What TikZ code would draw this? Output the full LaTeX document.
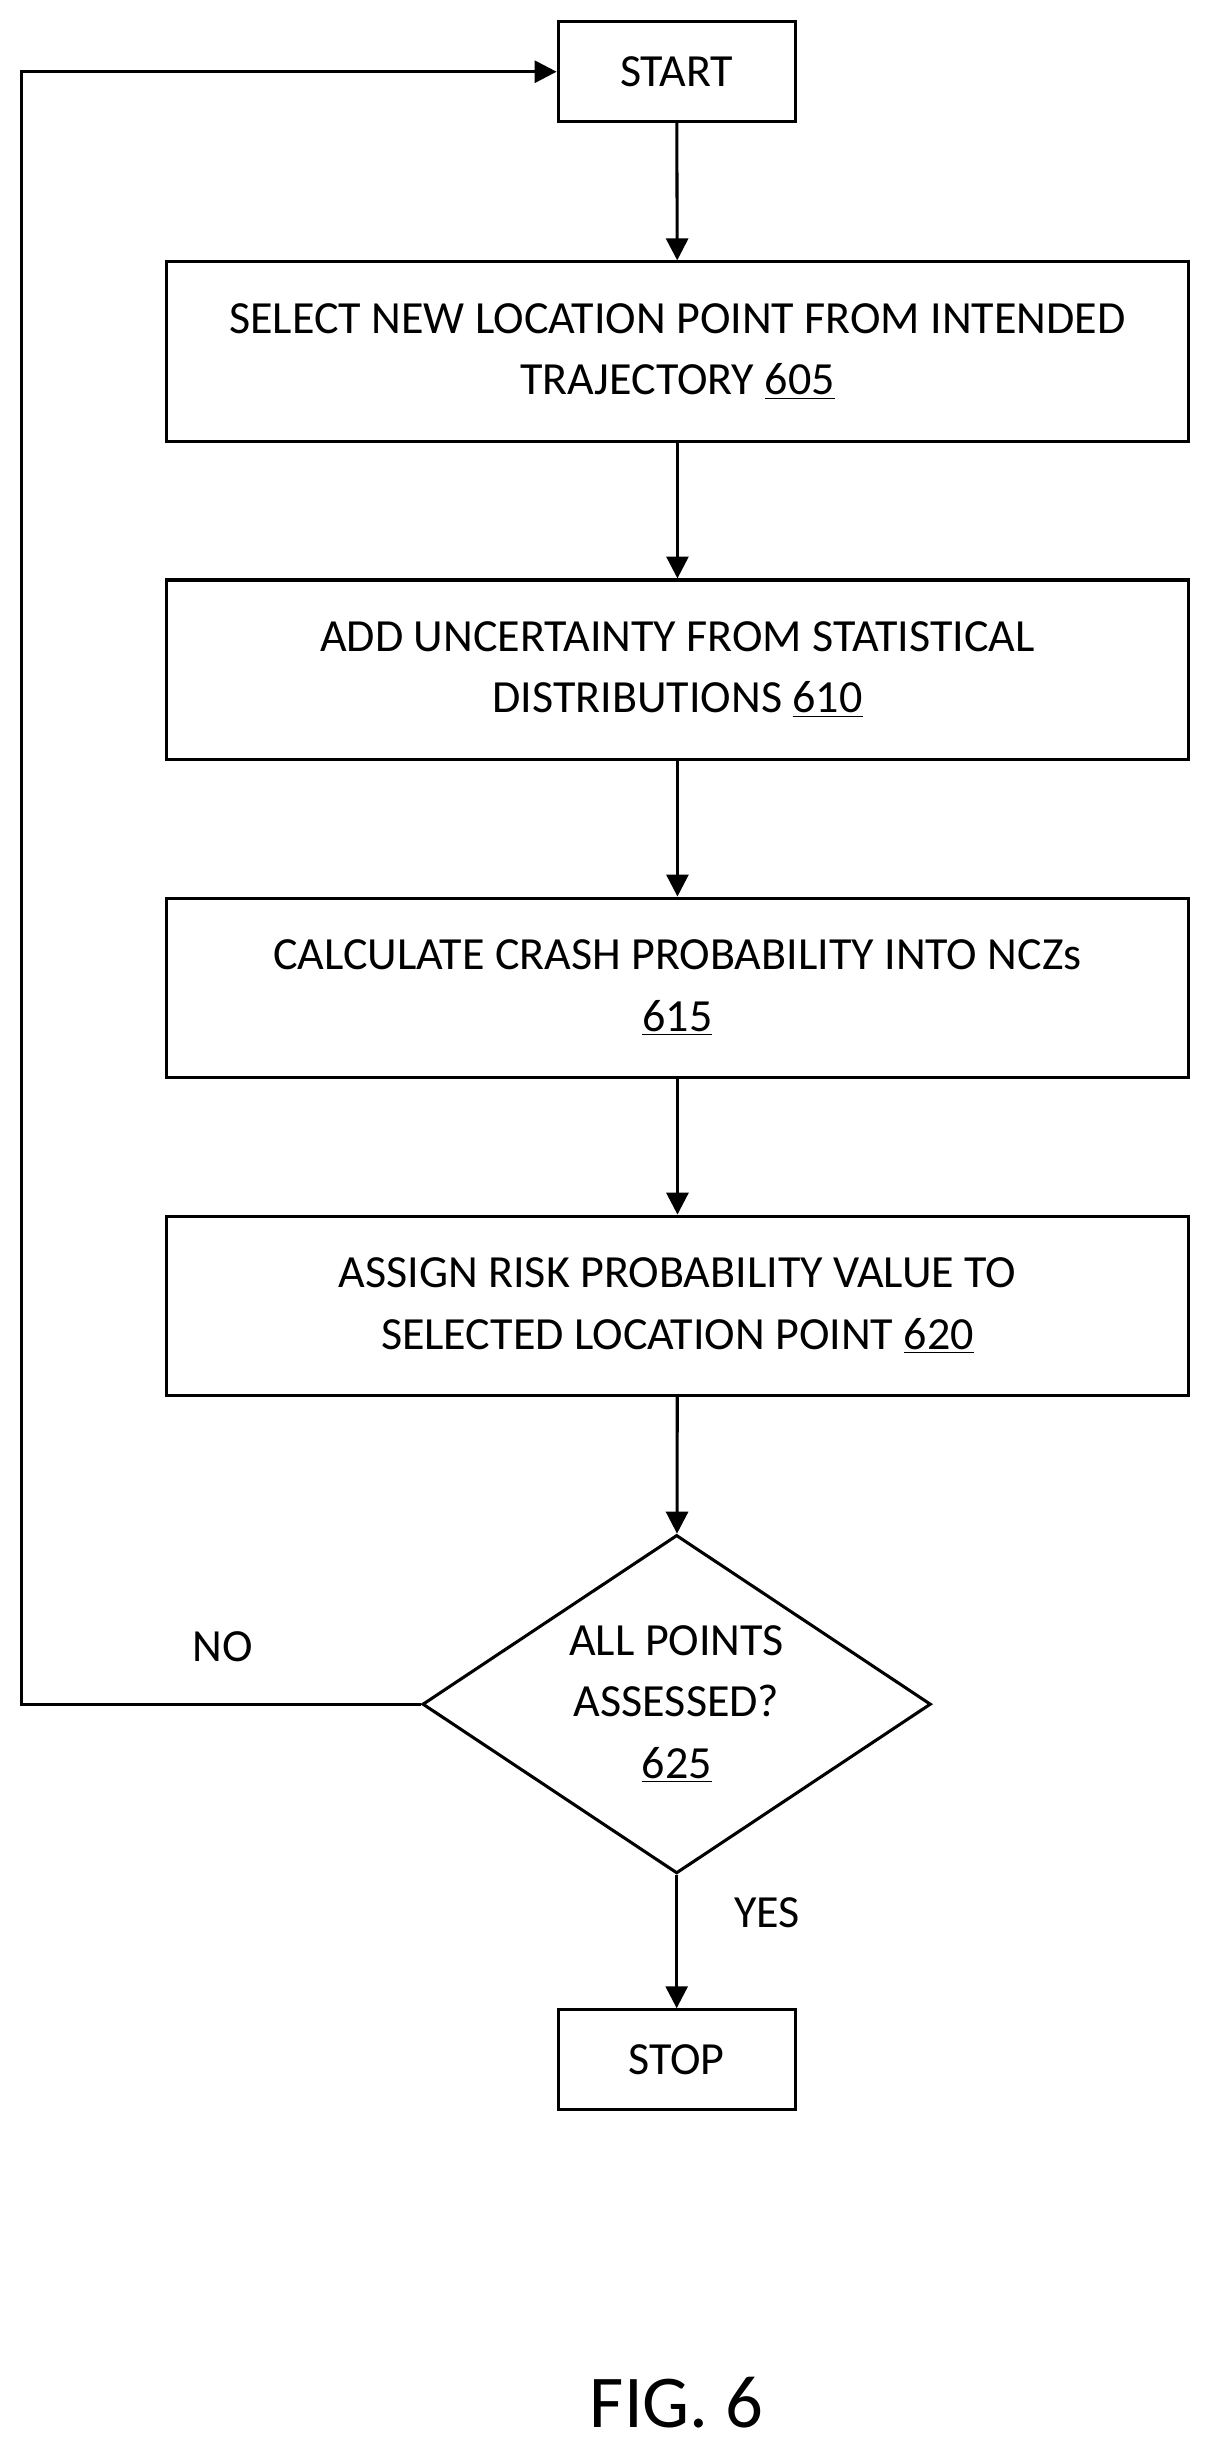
\documentclass[tikz,border=0pt]{standalone}
\usepackage{fontspec}
\setmainfont{Carlito}
\usetikzlibrary{shapes.geometric, arrows.meta}
\tikzset{
  procbox/.style={draw, line width=1.4pt, minimum width=16.375cm, minimum height=2.875cm,
               align=center, font=\fontsize{21}{28}\selectfont},
  term/.style={draw, line width=1.4pt, minimum width=3.8cm, minimum height=1.6cm,
               font=\fontsize{21}{28}\selectfont},
  decide/.style={draw, diamond, aspect=1.5, line width=1.4pt, inner sep=0pt,
                 minimum width=8.15cm, minimum height=5.425cm, align=center,
                 font=\fontsize{21}{28}\selectfont},
  flow/.style={line width=1.4pt, -{Triangle[length=10pt, width=10pt]}}
}
\begin{document}
\begin{tikzpicture}[x=0.025cm, y=-0.025cm]
  \useasboundingbox (0,0) rectangle (777,1572);

  \node[term] (start) at (434,46) {START};
  \node[procbox] (s605) at (434.5,225.5) {SELECT NEW LOCATION POINT FROM INTENDED\\TRAJECTORY \underline{605}};
  \node[procbox] (s610) at (434.5,429.5) {ADD UNCERTAINTY FROM STATISTICAL\\DISTRIBUTIONS \underline{610}};
  \node[procbox] (s615) at (434.5,633.5) {CALCULATE CRASH PROBABILITY INTO NCZs\\\underline{615}};
  \node[procbox] (s620) at (434.5,837.5) {ASSIGN RISK PROBABILITY VALUE TO\\SELECTED LOCATION POINT \underline{620}};
  \node[decide] (d625) at (434,1093) {ALL POINTS\\ASSESSED?\\\underline{625}};
  \node[term] (stop) at (434,1321) {STOP};

  \draw[flow] (start) -- (s605);
  \draw[flow] (s605) -- (s610);
  \draw[flow] (s610) -- (s615);
  \draw[flow] (s615) -- (s620);
  \draw[flow] (s620) -- (d625);
  \draw[flow] (d625) -- (stop);
  \draw[flow] (d625.west) -- (14,1093) -- (14,46) -- (start.west);

  \node[font=\fontsize{21}{28}\selectfont] (no) at (143,1056) {NO};
  \node[font=\fontsize{21}{28}\selectfont] (yes) at (492,1227) {YES};
  \node[font=\fontsize{34}{40}\selectfont] (fig) at (434,1541) {FIG. 6};
\end{tikzpicture}
\end{document}
